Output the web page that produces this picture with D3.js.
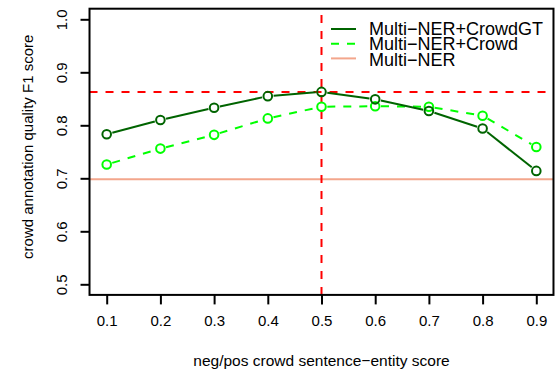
<!DOCTYPE html>
<html>
<head>
<meta charset="UTF-8">
<title>crowd F1</title>
<script src="https://d3js.org/d3.v7.min.js"></script>
<style>
  body { margin: 0; background: #ffffff; }
  text { font-family: "Liberation Sans", Arimo, Helvetica, Arial, sans-serif; fill: #000; }
</style>
</head>
<body>
<svg width="557" height="373" id="mainsvg"></svg>
<script>
// data
const thresholds = [0.1, 0.2, 0.3, 0.4, 0.5, 0.6, 0.7, 0.8, 0.9];
const crowdGT = [0.783, 0.810, 0.833, 0.855, 0.863, 0.849, 0.827, 0.794, 0.714];
const crowd   = [0.726, 0.756, 0.782, 0.813, 0.835, 0.836, 0.835, 0.818, 0.759];
const multiNER = 0.698;
const bestScore = 0.863;
const bestThreshold = 0.5;
const xTicks = [0.1, 0.2, 0.3, 0.4, 0.5, 0.6, 0.7, 0.8, 0.9];
const yTicks = [0.5, 0.6, 0.7, 0.8, 0.9, 1.0];
const legendLabels = ['Multi\u2212NER+CrowdGT', 'Multi\u2212NER+Crowd', 'Multi\u2212NER'];

const svg = d3.select('#mainsvg');
const dark = '#006400', light = '#00ff00', salmon = '#f3a68c', red = '#ff0000';

// R style: 4% padding around data range
const xScale = d3.scaleLinear().domain([0.1, 0.9]).range([106.7, 536.3]);
const yScale = d3.scaleLinear().domain([0.5, 1.0]).range([284.3, 19.3]);
const x0 = xScale(0.068), x1 = xScale(0.932);
const y0 = yScale(0.48), y1 = yScale(1.02);

// reference lines
svg.append('line')
    .attr('x1', x0).attr('x2', x1)
    .attr('y1', yScale(multiNER)).attr('y2', yScale(multiNER))
    .attr('stroke', salmon).attr('stroke-width', 2);
svg.append('line')
    .attr('x1', x0).attr('x2', x1)
    .attr('y1', yScale(bestScore)).attr('y2', yScale(bestScore))
    .attr('stroke', red).attr('stroke-width', 2).attr('stroke-dasharray', '8,8');
svg.append('line')
    .attr('x1', xScale(bestThreshold)).attr('x2', xScale(bestThreshold))
    .attr('y1', y0).attr('y2', y1)
    .attr('stroke', red).attr('stroke-width', 2).attr('stroke-dasharray', '8,8');

// series drawn like type="b": segments with gaps around the points
const r = 4.3;
const drawSeries = function(values, color, dash) {
    const pts = thresholds.map((t, i) => [xScale(t), yScale(values[i])]);
    const g = svg.append('g');
    for (let i = 0; i < pts.length - 1; i++) {
        const [ax, ay] = pts[i], [bx, by] = pts[i + 1];
        const len = Math.hypot(bx - ax, by - ay);
        const ux = (bx - ax) / len, uy = (by - ay) / len;
        const gap = r + 1.5;
        g.append('line')
            .attr('x1', ax + ux * gap).attr('y1', ay + uy * gap)
            .attr('x2', bx - ux * gap).attr('y2', by - uy * gap)
            .attr('stroke', color).attr('stroke-width', 2)
            .attr('stroke-dasharray', dash);
    }
    g.selectAll('circle').data(pts).join('circle')
        .attr('cx', d => d[0]).attr('cy', d => d[1]).attr('r', r)
        .attr('fill', 'none').attr('stroke', color).attr('stroke-width', 2);
};
drawSeries(crowd, light, '8,8');
drawSeries(crowdGT, dark, null);

// box
svg.append('rect')
    .attr('x', x0).attr('y', y1)
    .attr('width', x1 - x0).attr('height', y0 - y1)
    .attr('fill', 'none').attr('stroke', '#000').attr('stroke-width', 2);

// axes
const xAxis = d3.axisBottom(xScale).tickValues(xTicks).tickSize(9.5).tickPadding(11)
    .tickFormat(d3.format('.1f'));
const xg = svg.append('g').attr('transform', `translate(0,${y0})`).call(xAxis);
xg.select('.domain').remove();
xg.selectAll('.tick line').attr('stroke', '#000').attr('stroke-width', 2);
xg.selectAll('.tick text').attr('font-family', null).style('font-size', '15px');

const yAxis = d3.axisLeft(yScale).tickValues(yTicks).tickSize(9).tickFormat(d3.format('.1f'));
const yg = svg.append('g').attr('transform', `translate(${x0},0)`).call(yAxis);
yg.select('.domain').remove();
yg.selectAll('.tick line').attr('stroke', '#000').attr('stroke-width', 2);
yg.selectAll('.tick text')
    .attr('font-family', null).style('font-size', '15px')
    .attr('x', null).attr('dy', null)
    .attr('text-anchor', 'middle')
    .attr('transform', `translate(${67 - x0},0) rotate(-90)`);

// axis titles
svg.append('text')
    .attr('x', xScale(0.5)).attr('y', 366)
    .attr('text-anchor', 'middle').style('font-size', '15.5px')
    .text('neg/pos crowd sentence\u2212entity score');
svg.append('text')
    .attr('transform', `translate(33,${(y0 + y1) / 2 - 5}) rotate(-90)`)
    .attr('text-anchor', 'middle').style('font-size', '15px')
    .text('crowd annotation quality F1  score');

// legend
const legendColors = [dark, light, salmon];
const legendDash = [null, '8,8', null];
const lg = svg.append('g').attr('transform', 'translate(331,29)');
legendLabels.forEach((lab, i) => {
    lg.append('line')
        .attr('x1', 0).attr('x2', 25).attr('y1', i * 14.7).attr('y2', i * 14.7)
        .attr('stroke', legendColors[i]).attr('stroke-width', 2)
        .attr('stroke-dasharray', legendDash[i]);
    lg.append('text')
        .attr('x', 38).attr('y', i * 15.5 + 5.5)
        .style('font-size', '18px')
        .text(lab);
});
</script>
</body>
</html>
